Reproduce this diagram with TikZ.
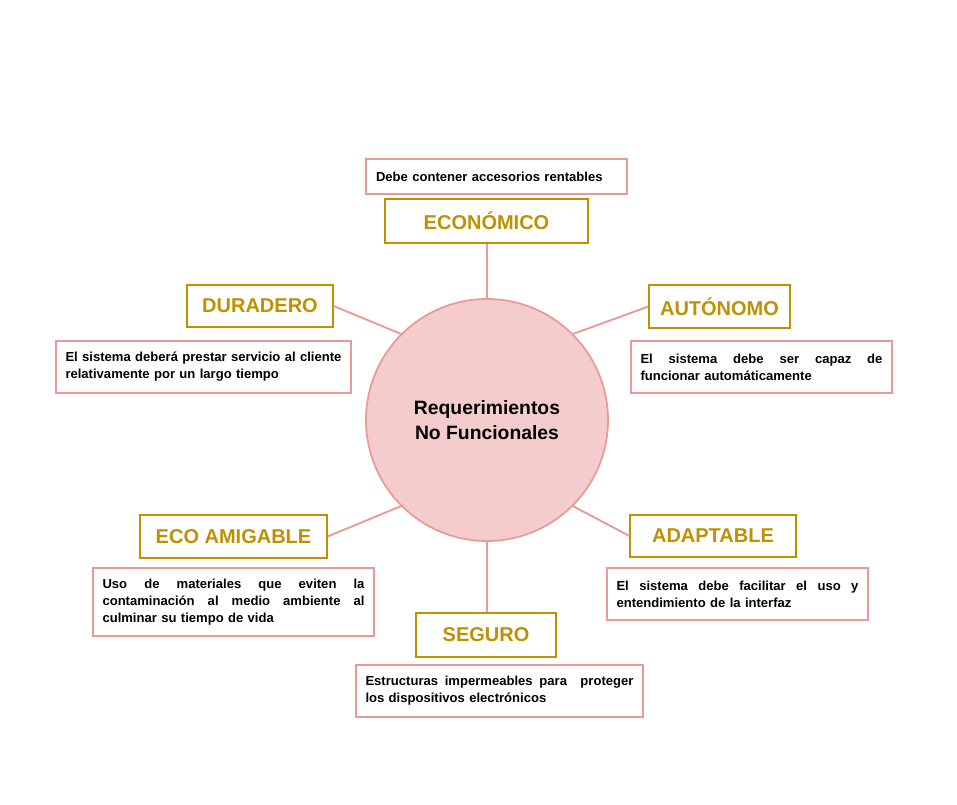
\documentclass[tikz,border=0pt]{standalone}
\usepackage{fontspec}
\setmainfont{Liberation Sans}
\usetikzlibrary{fit}
\definecolor{gold}{HTML}{BF9000}
\definecolor{pinkline}{HTML}{EA9999}
\definecolor{pinkfill}{HTML}{F4CCCC}
\newcommand\jl[2]{\makebox[#1][s]{\spaceskip=.3333em plus 1fil\relax #2}}
\begin{document}
\begin{tikzpicture}[x=0.75pt,y=-0.75pt,
  titlebox/.style={draw=gold, line width=0.9pt, text=gold, inner sep=0pt,
    font=\fontsize{15}{18}\selectfont\bfseries},
  titletext/.style={text=gold, font=\fontsize{15}{18}\selectfont\bfseries},
  descbox/.style={draw=pinkline, line width=0.9pt, inner sep=0pt, align=left,
    font=\fontsize{9.8}{12.75}\selectfont\bfseries},
  link/.style={draw=pinkline, line width=1.4pt}]
\useasboundingbox (0,0) rectangle (957,805);
\fill[white] (0,0) rectangle (957,805);

\node[circle, draw=pinkline, fill=pinkfill, line width=1.3pt, minimum size=181.5pt,
  inner sep=0pt, align=center, font=\fontsize{14.5}{18.75}\selectfont\bfseries] (c) at (487,420)
  {Requerimientos\\No Funcionales};

% ECONOMICO
\node[titlebox, fit={(385,199) (588,243)}] (eco) {};
\node[titletext] (ecot) at (eco.center) {ECONÓMICO};
\node[descbox, fit={(366,159) (627,194)}] (ecod) {};
\node[descbox, draw=none, text width=180.75pt] (ecodt) at (ecod.center) {Debe contener accesorios rentables};

% DURADERO
\node[titlebox, fit={(187,285) (333,327)}] (dur) {};
\node[titletext] (durt) at (dur.center) {DURADERO};
\node[descbox, fit={(56,341) (351,393)}] (durd) {};
\node[descbox, draw=none, text width=207pt] (durdt) at (durd.center)
  {\jl{207pt}{El sistema deberá prestar servicio al cliente}\\relativamente por un largo tiempo};

% AUTONOMO
\node[titlebox, fit={(649,285) (790,328)}] (aut) {};
\node[titletext] (autt) at (aut.center) {AUTÓNOMO};
\node[descbox, fit={(631,341) (892,393)}] (autd) {};
\node[descbox, draw=none, text width=181.5pt] (autdt) at (autd.center)
  {\jl{181.5pt}{El sistema debe ser capaz de}\\funcionar automáticamente};

% ECO AMIGABLE
\node[titlebox, fit={(140,515) (327,558)}] (ami) {};
\node[titletext] (amit) at (ami.center) {ECO AMIGABLE};
\node[descbox, fit={(93,568) (374,636)}] (amid) {};
\node[descbox, draw=none, text width=196.5pt] (amidt) at (amid.center)
  {\jl{196.5pt}{Uso de materiales que eviten la}\\\jl{196.5pt}{contaminación al medio ambiente al}\\culminar su tiempo de vida};

% ADAPTABLE
\node[titlebox, fit={(630,515) (796,557)}] (ada) {};
\node[titletext] (adat) at (ada.center) {ADAPTABLE};
\node[descbox, fit={(607,568) (868,620)}] (adad) {};
\node[descbox, draw=none, text width=181.5pt] (adadt) at (adad.center)
  {\jl{181.5pt}{El sistema debe facilitar el uso y}\\entendimiento de la interfaz};

% SEGURO
\node[titlebox, fit={(416,613) (556,657)}] (seg) {};
\node[titletext] (segt) at (seg.center) {SEGURO};
\node[descbox, fit={(356,665) (643,717)}] (segd) {};
\node[descbox, draw=none, text width=201pt] (segdt) at (segd.center)
  {\jl{201pt}{Estructuras impermeables para \ proteger}\\los dispositivos electrónicos};

% connectors
\draw[link] (c.north) -- (c.north |- eco.south);
\draw[link] (c.south) -- (c.south |- seg.north);
\draw[link] (c.135) -- (dur.east);
\draw[link] (c.45) -- (aut.west);
\draw[link] (c.225) -- (ami.east);
\draw[link] (c.315) -- (ada.west);
\end{tikzpicture}
\end{document}
